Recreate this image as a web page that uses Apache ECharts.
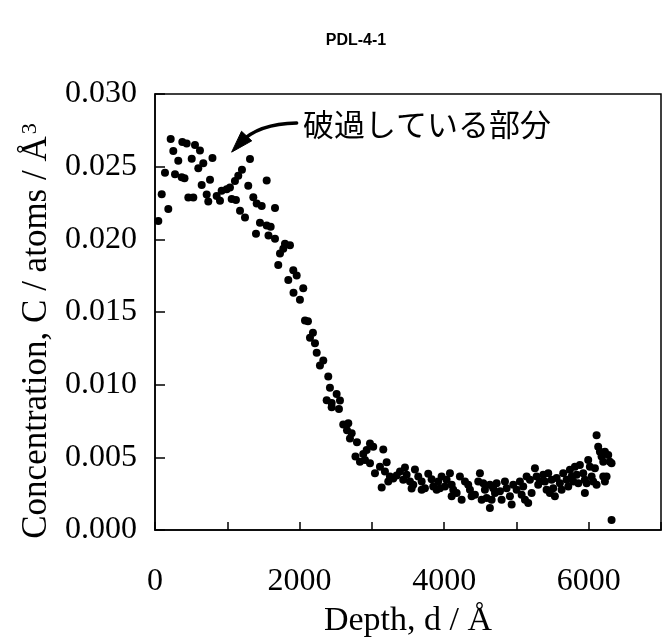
<!DOCTYPE html>
<html>
<head>
<meta charset="utf-8">
<script src="https://cdn.jsdelivr.net/npm/echarts@6/dist/echarts.min.js"></script>
<style>
  html, body { margin: 0; padding: 0; background: #fff; }
  #chart { width: 665px; height: 643px; }
</style>
</head>
<body>
<div id="chart"></div>
<script>
// Carbon depth profile of sample PDL-4-1
const chartTitle = 'PDL-4-1';
const xAxisTitle = 'Depth, d / Å';
const yAxisTitle = 'Concentration, C / atoms / Å';
const annotationText = '破過している部分';

// Depth (Å) of each measured point
const depth = [
  46, 93, 138, 184, 217, 253, 277, 322, 369, 378, 408, 438, 461, 508, 530, 553,
  599, 622, 646, 668, 715, 737, 761, 795, 853, 899, 922, 992, 1037, 1061, 1106, 1120,
  1152, 1176, 1203, 1245, 1290, 1314, 1360, 1407, 1397, 1452, 1476, 1545, 1545, 1570, 1600, 1660,
  1660, 1798, 1867, 1775, 1729, 1705, 1913, 1960, 1844, 2051, 1916, 2005, 2075, 2116,
  2185, 2144, 2213, 2237, 2328, 2282, 2397, 2420, 2513, 2559, 2375, 2444, 2545, 2444,
  2604, 2674, 2656, 2721, 2697, 2794, 2974, 3019, 2928, 3158, 2881, 2773, 2835, 2905, 2974, 3205,
  3112, 3043, 3181, 3250, 3296, 3136, 3227, 3389, 3458, 3481, 3434, 3343, 3527, 3596, 3642, 3573,
  3689, 3780, 3827, 3734, 3849, 3896, 3689, 3550,
  3918, 3965, 4034, 4080, 4104, 4011, 3942, 4126, 4104, 4173, 4242, 4218, 4288, 4333, 4357, 4426,
  4380, 4495, 4472, 4541, 4564, 4519, 4588, 4633, 4679, 4703, 4633, 4657, 4726, 4772, 4795, 4841,
  4864, 4910, 4934, 4956, 5003, 5048, 5072, 5094, 5141, 5187, 5118, 5163, 5210, 5256, 5279, 5301,
  5325, 5394, 5371, 5417, 5440, 5463, 5487, 5509, 5532, 5556, 5601, 5625, 5647, 5694, 5717, 5740,
  5763, 5786, 5809, 5833, 5856, 5878, 5924, 5947, 5947, 5971, 5993, 6016, 6040, 6062, 6086, 6109,
  6131, 6155, 6178, 6201, 6224, 6270, 6293, 6316, 6109, 6201, 6224, 6247, 6316
];

// Carbon concentration (atoms / Å^3) at each depth above
const concentration = [
  0.02127, 0.02311, 0.02459, 0.02209, 0.02690, 0.02607, 0.02448, 0.02540, 0.02427, 0.02669, 0.02420, 0.02659, 0.02287, 0.02555, 0.02287, 0.02649,
  0.02489, 0.02611, 0.02373, 0.02523, 0.02308, 0.02260, 0.02410, 0.02559, 0.02298, 0.02266, 0.02334, 0.02345, 0.02357, 0.02277, 0.02402, 0.02270,
  0.02437, 0.02197, 0.02478, 0.02151, 0.02368, 0.02553, 0.02289, 0.02247, 0.02039, 0.02114, 0.02229, 0.02405, 0.02095, 0.02027, 0.02086, 0.02216,
  0.02004, 0.01970, 0.01959, 0.01936, 0.01902, 0.01824, 0.01788, 0.01752, 0.01720, 0.01664, 0.01633, 0.01584, 0.01441, 0.01437,
  0.01357, 0.01323, 0.01285, 0.01220, 0.01166, 0.01132, 0.01057, 0.00978, 0.00936, 0.00891, 0.00893, 0.00845, 0.00832, 0.00873,
  0.00726, 0.00734, 0.00687, 0.00665, 0.00629, 0.00603, 0.00595, 0.00573, 0.00550, 0.00554, 0.00523, 0.00505, 0.00470, 0.00482, 0.00459, 0.00467,
  0.00436, 0.00391, 0.00402, 0.00368, 0.00355, 0.00293, 0.00334, 0.00402, 0.00430, 0.00380, 0.00346, 0.00375, 0.00334, 0.00416, 0.00368, 0.00312,
  0.00334, 0.00387, 0.00350, 0.00288, 0.00300, 0.00277, 0.00277, 0.00286,
  0.00334, 0.00368, 0.00346, 0.00391, 0.00312, 0.00300, 0.00288, 0.00277, 0.00232, 0.00254, 0.00209, 0.00368, 0.00334, 0.00312, 0.00277, 0.00243,
  0.00232, 0.00391, 0.00334, 0.00322, 0.00277, 0.00209, 0.00220, 0.00312, 0.00288, 0.00254, 0.00152, 0.00209, 0.00322, 0.00266, 0.00209, 0.00334,
  0.00288, 0.00232, 0.00175, 0.00312, 0.00277, 0.00334, 0.00243, 0.00300, 0.00368, 0.00346, 0.00209, 0.00186, 0.00254, 0.00425, 0.00368, 0.00312,
  0.00334, 0.00334, 0.00380, 0.00277, 0.00391, 0.00254, 0.00346, 0.00288, 0.00232, 0.00357, 0.00322, 0.00277, 0.00391, 0.00346, 0.00300, 0.00414,
  0.00368, 0.00334, 0.00436, 0.00380, 0.00322, 0.00448, 0.00391, 0.00346, 0.00254, 0.00322, 0.00482, 0.00436, 0.00368, 0.00334, 0.00425, 0.00652,
  0.00573, 0.00539, 0.00505, 0.00470, 0.00539, 0.00516, 0.00470, 0.00459, 0.00312, 0.00368, 0.00334, 0.00368, 0.00068
];

// Axis ranges and labelled ticks
const xRange = [0, 7000];
const yRange = [0, 0.030];
const xLabelValues = [0, 2000, 4000, 6000];
const yLabelValues = [0, 0.005, 0.010, 0.015, 0.020, 0.025, 0.030];

// Annotation: label anchor and arrow (tail -> tip) in data coordinates
const labelAt = [2047, 0.02789];
const arrowFrom = [1960, 0.0280];
const arrowTo = [1060, 0.0260];

const points = depth.map((d, i) => [d, concentration[i]]);

const serif = '"Liberation Serif", "Times New Roman", serif';
const chart = echarts.init(document.getElementById('chart'), null, { renderer: 'canvas' });

chart.setOption({
  backgroundColor: '#fff',
  animation: false,
  title: {
    text: chartTitle,
    left: 351,
    textAlign: 'center',
    top: 28,
    textStyle: { fontFamily: '"Liberation Sans", Arial, sans-serif', fontSize: 16, fontWeight: 'bold', color: '#000' }
  },
  grid: {
    left: 155, right: 4, top: 94, bottom: 109,
    show: true, borderColor: '#000', borderWidth: 1.5, backgroundColor: 'transparent'
  },
  xAxis: {
    type: 'value',
    min: xRange[0], max: xRange[1], interval: 1000,
    axisLine: { show: true, lineStyle: { color: '#000', width: 1.5 } },
    axisTick: { show: true, inside: true, length: 8, lineStyle: { color: '#000', width: 1.5 } },
    splitLine: { show: false },
    axisLabel: {
      margin: 36,
      color: '#000', fontFamily: serif, fontSize: 32,
      formatter: v => xLabelValues.includes(v) ? String(v) : ''
    },
    name: xAxisTitle,
    nameLocation: 'middle',
    nameGap: 74,
    nameTextStyle: { color: '#000', fontFamily: serif, fontSize: 34 }
  },
  yAxis: {
    type: 'value',
    min: yRange[0], max: yRange[1], interval: 0.005,
    axisLine: { show: true, lineStyle: { color: '#000', width: 1.5 } },
    axisTick: { show: true, inside: true, length: 10, lineStyle: { color: '#000', width: 1.5 } },
    splitLine: { show: false },
    axisLabel: {
      margin: 18,
      color: '#000', fontFamily: serif, fontSize: 32,
      formatter: v => yLabelValues.some(t => Math.abs(t - v) < 1e-9) ? v.toFixed(3) : ''
    },
    name: '{a|' + yAxisTitle + '}{s|3}',
    nameLocation: 'middle',
    nameGap: 100,
    nameTextStyle: {
      color: '#000', fontFamily: serif, fontSize: 35,
      padding: [0, 38, 0, 0],
      rich: {
        a: { fontFamily: serif, fontSize: 35, color: '#000' },
        s: { fontFamily: serif, fontSize: 22, color: '#000', verticalAlign: 'top', padding: [0, 0, 0, 2] }
      }
    }
  },
  series: [{
    type: 'scatter',
    data: points,
    symbol: 'circle',
    symbolSize: 8,
    itemStyle: { color: '#000', opacity: 1 },
    silent: true
  }]
});

// Curved arrow and label pointing at the surface region
function drawAnnotation() {
  const toPx = p => chart.convertToPixel({ gridIndex: 0 }, p);
  const tail = toPx(arrowFrom);
  const tip = toPx(arrowTo);
  const lab = toPx(labelAt);

  const dx = tip[0] - tail[0], dy = tip[1] - tail[1];
  const len = Math.hypot(dx, dy);
  // perpendicular bending the curve upward
  const nx = dy / len, ny = -dx / len;
  const bow = 15;
  const sgn = ny < 0 ? 1 : -1;
  const cp = [(tail[0] + tip[0]) / 2 + nx * bow * sgn, (tail[1] + tip[1]) / 2 + ny * bow * sgn];

  // tangent at the tip
  let tx = tip[0] - cp[0], ty = tip[1] - cp[1];
  const tl = Math.hypot(tx, ty); tx /= tl; ty /= tl;
  const headLen = 22, headHalf = 7;
  const base = [tip[0] - tx * headLen, tip[1] - ty * headLen];
  const shaftEnd = [tip[0] - tx * headLen * 0.6, tip[1] - ty * headLen * 0.6];

  chart.setOption({
    graphic: [
      {
        type: 'bezierCurve',
        shape: { x1: tail[0], y1: tail[1], cpx1: cp[0], cpy1: cp[1], x2: shaftEnd[0], y2: shaftEnd[1] },
        style: { stroke: '#000', lineWidth: 3.4, fill: null, lineCap: 'round' },
        silent: true
      },
      {
        type: 'polygon',
        shape: { points: [tip, [base[0] - ty * headHalf, base[1] + tx * headHalf], [base[0] + ty * headHalf, base[1] - tx * headHalf]] },
        style: { fill: '#000', stroke: '#000', lineWidth: 1 },
        silent: true
      },
      {
        type: 'text',
        x: lab[0], y: lab[1],
        style: {
          text: annotationText,
          font: '31px "Noto Sans CJK JP", sans-serif',
          fill: '#000',
          textAlign: 'left',
          textVerticalAlign: 'middle'
        },
        silent: true
      }
    ]
  });
}
drawAnnotation();
</script>
</body>
</html>
